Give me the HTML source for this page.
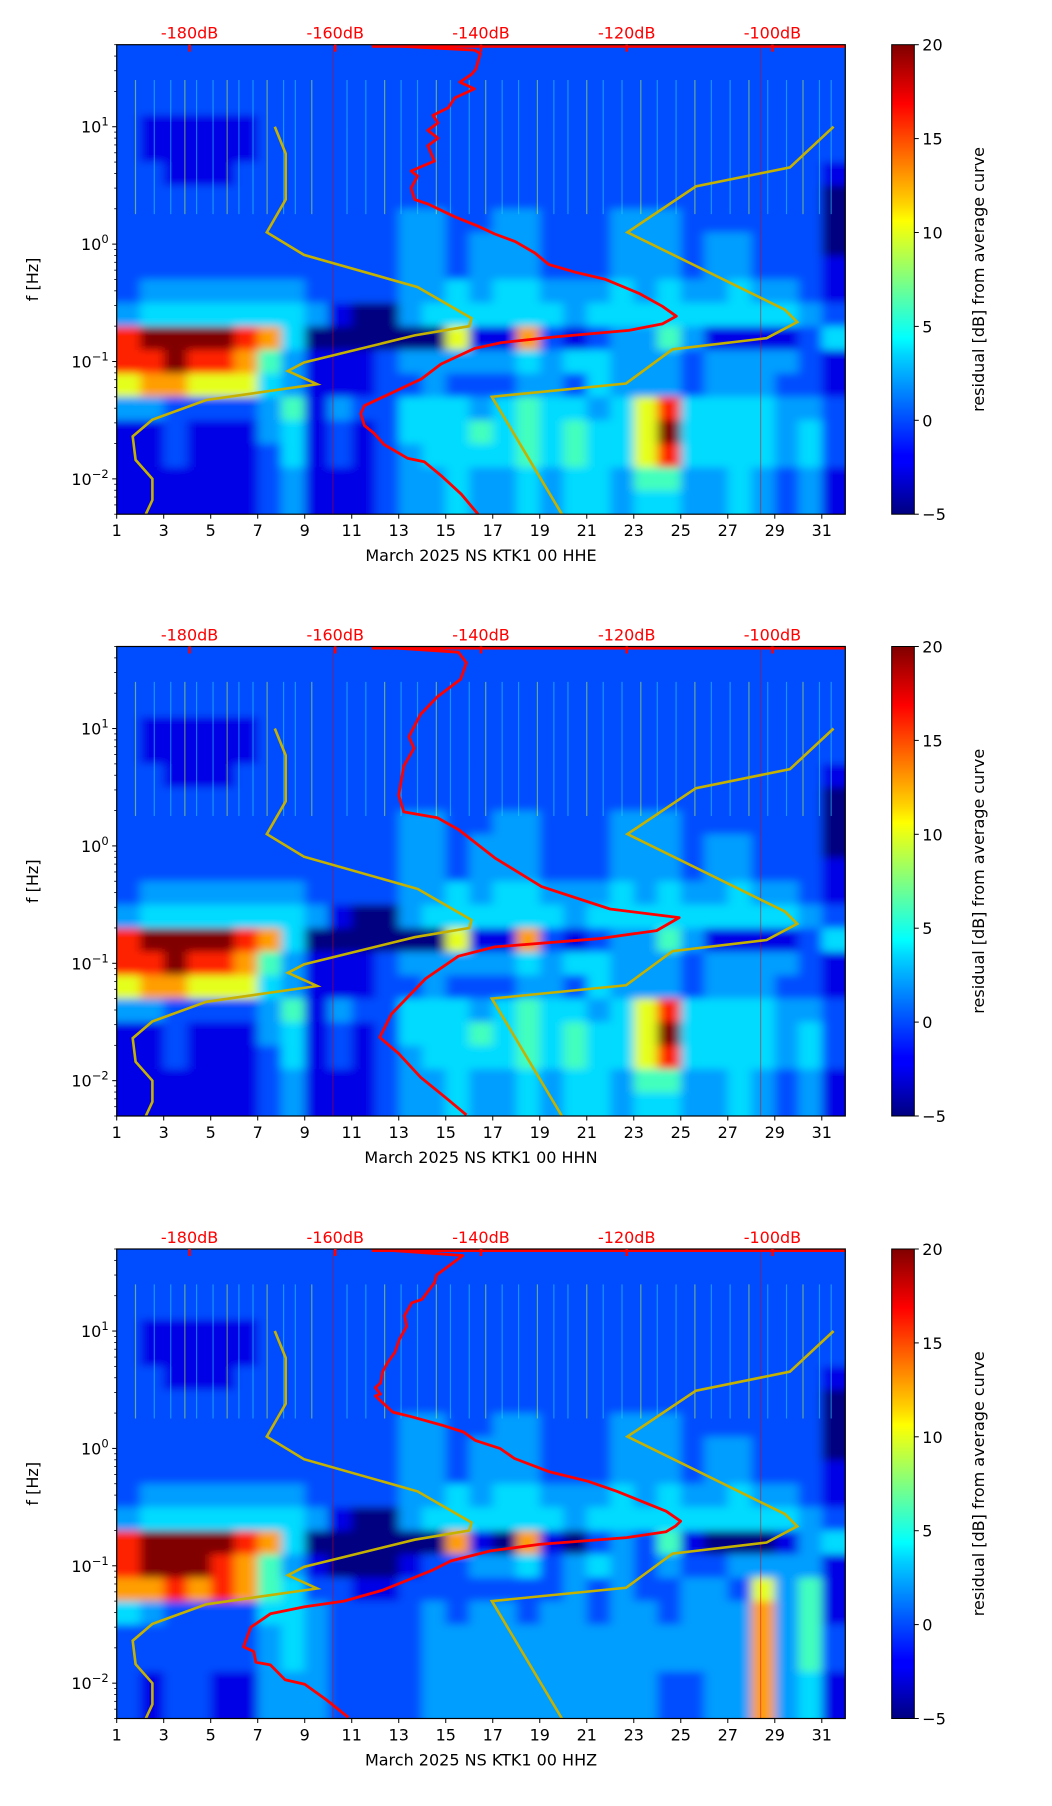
<!DOCTYPE html>
<html><head><meta charset="utf-8">
<style>
html,body{margin:0;padding:0;background:#fff;}
svg{display:block;font-family:"DejaVu Sans","Liberation Sans",sans-serif;}
</style></head>
<body>
<svg id="fig" width="1052" height="1806" viewBox="0 0 1052 1806" xmlns="http://www.w3.org/2000/svg">
<defs>
<linearGradient id="jet" x1="0" y1="1" x2="0" y2="0">
<stop offset="0" stop-color="#000080"/><stop offset="0.11" stop-color="#0000ff"/>
<stop offset="0.125" stop-color="#0000ff"/><stop offset="0.34" stop-color="#00d4ff"/>
<stop offset="0.375" stop-color="#00ffff"/><stop offset="0.5" stop-color="#80ff80"/>
<stop offset="0.625" stop-color="#ffff00"/><stop offset="0.66" stop-color="#ffd400"/>
<stop offset="0.875" stop-color="#ff0000"/><stop offset="1" stop-color="#800000"/>
</linearGradient>
<filter id="soft" x="-5%" y="-5%" width="110%" height="110%"><feGaussianBlur stdDeviation="5 4"/></filter>
</defs>
</svg>
<script>
// ---- data ----
const dayTicks = [1,3,5,7,9,11,13,15,17,19,21,23,25,27,29,31];
const dbTicks = [-180,-160,-140,-120,-100];
const yTickExps = [1,0,-1,-2];
const cbTicks = [-5,0,5,10,15,20];
const digitValues = [-5,-2.5,0,2,3.5,6,10,13,16,20];
const panelLabels = ["March 2025 NS KTK1 00 HHE","March 2025 NS KTK1 00 HHN","March 2025 NS KTK1 00 HHZ"];
const gridE = [
"2222222222222222222222222222222",
"2222222222222222222222222222222",
"2222222222222222222222222222222",
"2111112222222222222222222222222",
"2111112222222222222222222222222",
"2211122222222222222222222222221",
"2222222222222222222222222222220",
"2222222222223322332223332222220",
"2222222222223323332223332332220",
"2222222222223323332223332332221",
"2333333322223343443334343343321",
"3444444431003444444344444444432",
"8999987400000061172123353111124",
"8898875311123333343443332333321",
"6776664311122322233243332333221",
"3322223513224443454434684444332",
"1121113412124445454544694444342",
"1121112412123444454544684444342",
"1111112311123343343443553343231",
"1111112311123343343443443343231"];
const gridN = [
"2222222222222222222222222222222",
"2222222222222222222222222222222",
"2222222222222222222222222222222",
"2111112222222222222222222222222",
"2111112222222222222222222222222",
"2211122222222222222222222222221",
"2222222222222222222222222222220",
"2222222222223322332223332222220",
"2222222222223323332223332332220",
"2222222222223323332223332332221",
"2333333322223343443334343343321",
"3444444431003444444344444444432",
"8999987400000061172123353111124",
"8898875311123333343443332333321",
"6776664311122322233243332333221",
"3322223513224443454434684444332",
"1121113412124445454544694444342",
"1121112412123444454544684444342",
"1111112311123343343443553343231",
"1111112311123343343443443343231"];
const gridZ = [
"2222222222222222222222222222222",
"2222222222222222222222222222222",
"2222222222222222222222222222222",
"2111112222222222222222222222222",
"2111112222222222222222222222222",
"2211122222222222222222222222221",
"2222222222222222222222222222220",
"2222222222223322332223332222220",
"2222222222223323332223332332220",
"2222222222223323332223332332221",
"2333333322223343443334343343321",
"3444444431003444444344444444432",
"8999987400000071071023251000134",
"8999875310001223342343232233331",
"7787875422112222222323223326351",
"4322224432222323323323323337351",
"2222223432222333333333333337352",
"2222223432222333333333333337352",
"2122113332222333333333322337341",
"2122113332222333333333322337341"];
const redDbE = [-155,-140.9,-140.1,-140.7,-141.3,-142.9,-140.9,-143.6,-144.5,-146.6,-145.9,-147.3,-145.9,-147.3,-146.4,-149.6,-148.7,-149.6,-149.1,-147.3,-143.6,-140.4,-138.1,-135.3,-132.6,-130.7,-127.0,-122.9,-118.3,-115.1,-113.2,-115.1,-119.7,-129.8,-137.2,-140.9,-145.5,-148.2,-152.8,-156.0,-156.5,-156.0,-154.7,-153.3,-150.1,-147.8,-145.5,-142.7,-140.4];
const redFE = [50,45,42,31,28,24,21,17.6,14.5,12.5,10.8,9.3,8,6.9,5.1,4.2,3.8,3.0,2.4,2.2,1.71,1.42,1.22,1.05,0.84,0.67,0.575,0.50,0.38,0.295,0.243,0.209,0.184,0.162,0.145,0.129,0.095,0.071,0.052,0.042,0.036,0.0285,0.0245,0.0196,0.015,0.014,0.0107,0.0074,0.005];
const redDbN = [-155,-143.1,-142.0,-142.8,-146.0,-148.3,-149.9,-149.2,-150.6,-151.3,-150.6,-146.0,-143.1,-138.1,-131.7,-122.3,-112.8,-115.9,-123.9,-138.1,-143.1,-147.6,-152.3,-153.9,-151.3,-148.3,-144.4,-142.0];
const redFN = [50,44.7,36.3,26.3,18.6,13.2,8.5,6.8,4.8,2.7,1.95,1.74,1.38,0.79,0.45,0.29,0.245,0.19,0.162,0.138,0.115,0.074,0.037,0.0234,0.017,0.0107,0.0068,0.0051];
const redDbZ = [-155,-142.5,-146.1,-146.4,-148.1,-149.5,-150.5,-150.2,-151.2,-151.8,-152.8,-153.5,-153.8,-154.5,-153.8,-154.5,-153.5,-152.1,-149.5,-145.4,-142.4,-140.8,-137.4,-135.4,-130.7,-125.3,-121.3,-118.0,-114.6,-112.6,-113.3,-114.6,-120.0,-132.0,-138.7,-144.1,-146.8,-149.5,-153.5,-158.8,-164.2,-168.9,-171.6,-172.6,-171.2,-170.9,-168.9,-166.9,-164.2,-161.2,-158.2];
const redFZ = [50,44,30,25.7,18.6,17.4,13.5,11,8.5,6.6,5.4,4.5,3.6,3.3,2.9,2.8,2.45,2.04,1.86,1.58,1.38,1.17,1.0,0.82,0.635,0.525,0.43,0.355,0.292,0.24,0.218,0.195,0.174,0.152,0.134,0.110,0.091,0.078,0.062,0.050,0.0447,0.039,0.030,0.0204,0.0186,0.0151,0.0143,0.0107,0.0098,0.0072,0.0051];
const nlnmDb = [-168.3,-166.8,-166.8,-169.4,-164.3,-148.7,-141.3,-141.6,-149.1,-164.3,-166.5,-162.5,-177.7,-185.1,-187.8,-187.4,-185.1,-185.1,-186];
const nlnmF = [10,5.9,2.4,1.26,0.81,0.43,0.234,0.2,0.167,0.098,0.083,0.064,0.047,0.032,0.023,0.0145,0.01,0.0066,0.005];
const nhnmDb = [-91.6,-97.6,-110.5,-119.9,-98.3,-96.6,-100.8,-113.7,-120.1,-138.5,-128.9];
const nhnmF = [10,4.5,3.1,1.26,0.276,0.217,0.158,0.127,0.065,0.05,0.005];
const streakDays = [1.8,2.6,3.3,3.9,4.4,5.1,5.7,6.2,6.8,7.4,8.1,8.6,9.3,10.8,11.6,12.4,13.1,13.8,14.6,15.2,16.0,16.7,17.4,18.1,18.9,19.6,20.2,21.0,21.7,22.5,23.3,24.0,24.8,25.6,26.3,27.1,27.9,28.7,29.5,30.2,30.9,31.4];
const spikeDays = [10.2,28.4];

// ---- layout ----
const NS="http://www.w3.org/2000/svg";
const svg=document.getElementById('fig');
const AX_L=116.7, AX_R=845.3, AX_H=469.5;
const PANEL_TOPS=[44.7,646.5,1249];
const CB_L=891.7, CB_R=914.3;
const LOG_TOP=Math.log10(50), LOG_BOT=Math.log10(0.005);
function xDay(d){return AX_L+(d-1)/31*(AX_R-AX_L);}
function xDb(db){return AX_L+(db+190)/100*(AX_R-AX_L);}
function yF(top,f){return top+(LOG_TOP-Math.log10(f))/(LOG_TOP-LOG_BOT)*AX_H;}
function jet(t){
  const c=v=>Math.round(255*Math.max(0,Math.min(1,v)));
  return `rgb(${c(1.5-Math.abs(4*t-3))},${c(1.5-Math.abs(4*t-2))},${c(1.5-Math.abs(4*t-1))})`;
}
function digitVal(ch){return digitValues[Number(ch)];}
function mk(tag,attrs,parent,text){
  const e=document.createElementNS(NS,tag);
  for(const k in attrs)e.setAttribute(k,attrs[k]);
  if(text!==undefined)e.textContent=text;
  (parent||svg).appendChild(e);return e;
}
function polyPts(top,dbs,fs){return dbs.map((d,i)=>xDb(d).toFixed(1)+','+yF(top,fs[i]).toFixed(1)).join(' ');}

const grids=[gridE,gridN,gridZ];
const reds=[[redDbE,redFE],[redDbN,redFN],[redDbZ,redFZ]];

PANEL_TOPS.forEach((top,p)=>{
  const g=mk('g',{});
  
  
  mk('clipPath',{id:'clip'+p},g);
  mk('rect',{x:AX_L,y:top,width:AX_R-AX_L,height:AX_H},document.getElementById('clip'+p));
  const clipG=mk('g',{'clip-path':'url(#clip'+p+')'},g);
  const heat=mk('g',{filter:'url(#soft)'},clipG);
  
  
  const grid=grids[p], nr=grid.length;
  mk('rect',{x:AX_L-20,y:top-20,width:AX_R-AX_L+40,height:AX_H+40,fill:jet(0.2)},heat);
  grid.forEach((row,r)=>{
    const f0=Math.pow(10,LOG_TOP-(LOG_TOP-LOG_BOT)*r/nr), f1=Math.pow(10,LOG_TOP-(LOG_TOP-LOG_BOT)*(r+1)/nr);
    for(let c=0;c<row.length;c++){
      const v=digitVal(row[c]);
      const x0=xDay(c+1), x1=xDay(c+2);
      let ya=yF(top,f0), yb=yF(top,f1);
      if(r===0)ya-=20; if(r===nr-1)yb+=20;
      let xa=x0, xb=x1; if(c===0)xa-=20; if(c===row.length-1)xb+=20;
      const cell=mk('rect',{x:xa.toFixed(1),y:ya.toFixed(1),width:(xb-xa+0.6).toFixed(1),height:(yb-ya+0.6).toFixed(1),fill:jet((v+5)/25)},heat);
      
      
    }
  });
  streakDays.forEach((d,i)=>{
    const s=mk('line',{x1:xDay(d),x2:xDay(d),y1:yF(top,25),y2:yF(top,1.8),stroke:i%3===0?'#c8ff40':'#30d8ff','stroke-width':1.2,opacity:0.5},clipG);
    
    
  });
  spikeDays.forEach(d=>{
    const s=mk('line',{x1:xDay(d),x2:xDay(d),y1:top,y2:top+AX_H,stroke:'#e00000','stroke-width':1,opacity:0.5},clipG);
    
    
  });
  const nl=mk('polyline',{points:polyPts(top,nlnmDb,nlnmF),fill:'none',stroke:'#c5b100','stroke-width':2.6},clipG);
  
  
  const nh=mk('polyline',{points:polyPts(top,nhnmDb,nhnmF),fill:'none',stroke:'#c5b100','stroke-width':2.6},clipG);
  
  
  const rd=reds[p];
  const topLine=mk('line',{x1:xDb(rd[0][0]),x2:AX_R,y1:top+1.5,y2:top+1.5,stroke:'#ff0000','stroke-width':3},g);
  
  
  const rc=mk('polyline',{points:polyPts(top,rd[0],rd[1]),fill:'none',stroke:'#ff0000','stroke-width':2.8,'stroke-linejoin':'round'},clipG);
  
  
  const fr=mk('rect',{x:AX_L,y:top,width:AX_R-AX_L,height:AX_H,fill:'none',stroke:'#000','stroke-width':1.2},g);
  
  
  dayTicks.forEach(d=>{
    mk('line',{x1:xDay(d),x2:xDay(d),y1:top+AX_H,y2:top+AX_H+4.5,stroke:'#000','stroke-width':1},g);
    const t=mk('text',{x:xDay(d),y:top+AX_H+22,'text-anchor':'middle','font-size':16},g,String(d));
    
    
  });
  const xl=mk('text',{x:(AX_L+AX_R)/2,y:top+AX_H+47,'text-anchor':'middle','font-size':16},g,panelLabels[p]);
  
  
  dbTicks.forEach(db=>{
    mk('line',{x1:xDb(db),x2:xDb(db),y1:top,y2:top+7,stroke:'#ff0000','stroke-width':2.5},g);
    const t=mk('text',{x:xDb(db),y:top-6,'text-anchor':'middle','font-size':16,fill:'#ff0000'},g,db+'dB');
    
    
  });
  for(let e=-3;e<=1;e++){
    for(let m=1;m<=9;m++){
      const f=m*Math.pow(10,e);
      if(f<0.005||f>50)continue;
      const y=yF(top,f);
      mk('line',{x1:AX_L,x2:AX_L-(m===1?4.5:2.5),y1:y,y2:y,stroke:'#000','stroke-width':m===1?1:0.8},g);
    }
  }
  yTickExps.forEach(e=>{
    const y=yF(top,Math.pow(10,e));
    const t=mk('text',{x:AX_L-8,y:y+6,'text-anchor':'end','font-size':16},g);
    
    
    t.appendChild(document.createTextNode('10'));
    mk('tspan',{dy:-7,'font-size':11.5},t,e<0?'\u2212'+(-e):String(e));
  });
  const yl=mk('text',{x:0,y:0,transform:`translate(38,${top+AX_H/2}) rotate(-90)`,'text-anchor':'middle','font-size':16},g,'f [Hz]');
  
  
  const cb=mk('rect',{x:CB_L,y:top,width:CB_R-CB_L,height:AX_H,fill:'url(#jet)',stroke:'#000','stroke-width':1},g);
  
  
  cbTicks.forEach(v=>{
    const y=top+AX_H*(20-v)/25;
    mk('line',{x1:CB_R,x2:CB_R+4.5,y1:y,y2:y,stroke:'#000','stroke-width':1},g);
    const t=mk('text',{x:CB_R+8,y:y+6,'font-size':16},g,v<0?'\u2212'+(-v):String(v));
    
    
  });
  const cl=mk('text',{x:0,y:0,transform:`translate(984,${top+AX_H/2}) rotate(-90)`,'text-anchor':'middle','font-size':16},g,'residual [dB] from average curve');
  
  
});
</script>
</body></html>
